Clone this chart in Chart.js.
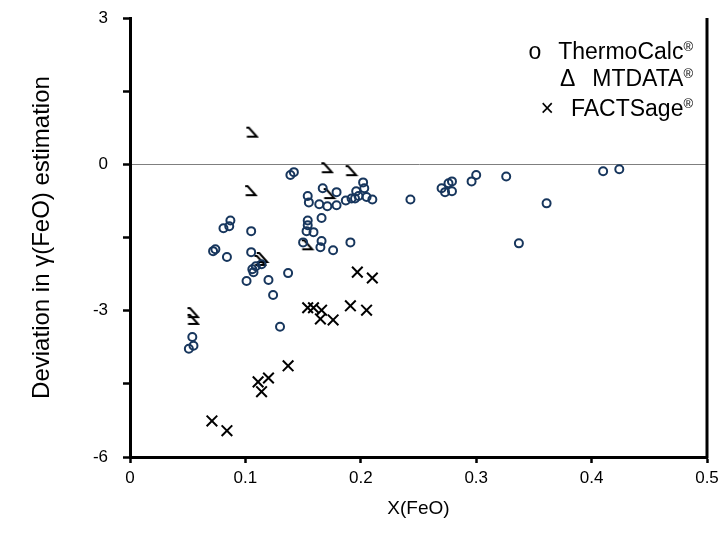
<!DOCTYPE html>
<html>
<head>
<meta charset="utf-8">
<script src="https://cdn.jsdelivr.net/npm/chart.js@4/dist/chart.umd.min.js"></script>
<style>
html,body{margin:0;padding:0;background:#fff;}
#c{display:block;}
</style>
</head>
<body>
<canvas id="c" width="726" height="550"></canvas>
<script>
// ---- data ----
const thermoX = [0.410,0.424,0.361,0.337,0.326,0.300,0.296,0.279,0.276,0.270,0.273,0.279,0.243,
  0.202,0.203,0.196,0.192,0.187,0.195,0.198,0.205,0.210,
  0.139,0.142,0.167,0.179,0.154,0.155,0.164,0.171,0.179,
  0.154,0.154,0.153,0.159,0.166,0.150,0.166,0.165,0.176,0.191,0.137,
  0.087,0.081,0.086,0.105,0.072,0.074,0.084,0.105,0.106,0.107,0.109,0.114,0.101,0.120,0.124,0.130,0.054,0.055,0.051];
const thermoY = [-0.14,-0.10,-0.80,-1.62,-0.25,-0.22,-0.35,-0.35,-0.39,-0.49,-0.57,-0.55,-0.72,
  -0.37,-0.49,-0.55,-0.70,-0.74,-0.70,-0.65,-0.67,-0.72,
  -0.22,-0.16,-0.49,-0.57,-0.65,-0.78,-0.82,-0.86,-0.84,
  -1.15,-1.25,-1.37,-1.39,-1.10,-1.60,-1.57,-1.70,-1.76,-1.60,-2.23,
  -1.15,-1.31,-1.27,-1.37,-1.78,-1.74,-1.90,-1.80,-2.15,-2.21,-2.09,-2.05,-2.39,-2.37,-2.68,-3.33,-3.54,-3.72,-3.78];

const mtdataX = [0.106,0.105,0.171,0.192,0.173,0.154,0.113,0.115,0.055,0.055];
const mtdataY = [0.65,-0.55,-0.08,-0.14,-0.61,-1.66,-1.98,-1.92,-3.05,-3.19];

const factX = [0.111,0.120,0.114,0.137,0.071,0.084,0.154,0.159,0.166,0.165,0.176,0.191,0.205,0.197,0.210];
const factY = [-4.46,-4.38,-4.66,-4.13,-5.26,-5.46,-2.94,-2.94,-2.99,-3.17,-3.19,-2.90,-2.99,-2.21,-2.33];

const seriesNames = ['ThermoCalc', 'MTDATA', 'FACTSage'];
const legendSymbols = ['o', '\u0394', '\u00D7'];
const xTickValues = [0, 0.1, 0.2, 0.3, 0.4, 0.5];
const xTickLabels = ['0', '0.1', '0.2', '0.3', '0.4', '0.5'];
const yTickValues = [-6, -3, 0, 3];
const yTickLabels = ['-6', '-3', '0', '3'];
const xTitle = 'X(FeO)';
const yTitle = 'Deviation in \u03B3(FeO) estimation';

// ---- helpers ----
const toPts = (xs, ys) => xs.map((x, i) => ({x: x, y: ys[i]}));
const FONT = '"Liberation Sans", Arial, sans-serif';

// custom marker for MTDATA (open, partially drawn triangle as in the picture)
const mtMarker = document.createElement('canvas');
mtMarker.width = 14; mtMarker.height = 14;
(function(){
  const g = mtMarker.getContext('2d');
  g.strokeStyle = '#000'; g.lineWidth = 2; g.lineCap = 'butt'; g.lineJoin = 'miter';
  g.beginPath();
  g.moveTo(1, 2); g.lineTo(3.5, 2); g.lineTo(11.5, 11); g.lineTo(1.5, 11);
  g.stroke();
})();

const frame = {
  id: 'frame',
  afterDatasetsDraw(chart) {
    const {ctx, chartArea} = chart;
    ctx.save();
    ctx.strokeStyle = '#000';
    ctx.lineWidth = 3;
    ctx.beginPath();
    ctx.moveTo(chartArea.right, chartArea.top);
    ctx.lineTo(chartArea.right, chartArea.bottom + 1.5);
    ctx.stroke();
    // legend text (right aligned, with superscript ®)
    const rightEdge = 693;
    const ys = [53, 80, 110];
    ctx.fillStyle = '#000';
    ctx.textBaseline = 'middle';
    for (let i = 0; i < seriesNames.length; i++) {
      ctx.font = '13px ' + FONT;
      const rw = ctx.measureText('\u00AE').width;
      ctx.textAlign = 'left';
      ctx.fillText('\u00AE', rightEdge - rw, ys[i] - 6);
      ctx.font = '23px ' + FONT;
      ctx.textAlign = 'right';
      const nameRight = rightEdge - rw;
      ctx.fillText(seriesNames[i], nameRight, ys[i]);
      const nw = ctx.measureText(seriesNames[i]).width;
      ctx.fillText(legendSymbols[i], nameRight - nw - 17, ys[i]);
    }
    ctx.restore();
  }
};

new Chart(document.getElementById('c'), {
  type: 'scatter',
  data: {
    datasets: [
      { label: seriesNames[0], data: toPts(thermoX, thermoY), pointStyle: 'circle', pointRadius: 4,
        pointBorderWidth: 2, pointBorderColor: '#17365D', pointBackgroundColor: 'rgba(0,0,0,0)' },
      { label: seriesNames[1], data: toPts(mtdataX, mtdataY), pointStyle: mtMarker, pointRadius: 7 },
      { label: seriesNames[2], data: toPts(factX, factY), pointStyle: 'crossRot', pointRadius: 7.5,
        pointBorderWidth: 2, pointBorderColor: '#000' }
    ]
  },
  options: {
    responsive: false,
    animation: false,
    devicePixelRatio: 1,
    layout: { padding: { top: 18, right: 19, left: 0, bottom: 0 } },
    plugins: { legend: { display: false }, tooltip: { enabled: false } },
    scales: {
      x: {
        type: 'linear', min: 0, max: 0.5,
        afterBuildTicks: (s) => { s.ticks = xTickValues.map(v => ({value: v})); },
        afterFit: (s) => { s.height = 93; },
        border: { display: true, color: '#000', width: 3 },
        grid: { drawOnChartArea: false, tickLength: 6, tickWidth: 2.5, tickColor: '#000' },
        ticks: {
          padding: 5, color: '#000', font: { family: FONT, size: 17 }, maxRotation: 0,
          callback: (v) => { const i = xTickValues.findIndex(t => Math.abs(t - v) < 1e-9); return i >= 0 ? xTickLabels[i] : ''; }
        },
        title: { display: true, text: xTitle, color: '#000', font: { family: FONT, size: 19 }, padding: { top: 30, bottom: 30 } }
      },
      y: {
        type: 'linear', min: -6, max: 3,
        ticks: {
          stepSize: 1.5, padding: 15, color: '#000', font: { family: FONT, size: 17 },
          callback: (v) => { const i = yTickValues.findIndex(t => Math.abs(t - v) < 1e-9); return i >= 0 ? yTickLabels[i] : ''; }
        },
        afterFit: (s) => { s.width = 130; s.paddingTop = 4; s.paddingBottom = 4; },
        border: { display: true, color: '#000', width: 3 },
        grid: {
          drawOnChartArea: true, tickLength: 7, tickWidth: 2.5, tickColor: '#000',
          color: (c) => (c.tick && Math.abs(c.tick.value) < 1e-9) ? '#7f7f7f' : 'rgba(0,0,0,0)',
          lineWidth: 1
        },
        title: { display: true, text: yTitle, color: '#000', font: { family: FONT, size: 24 }, padding: { top: 28, bottom: 28 } }
      }
    }
  },
  plugins: [frame]
});
</script>
</body>
</html>
